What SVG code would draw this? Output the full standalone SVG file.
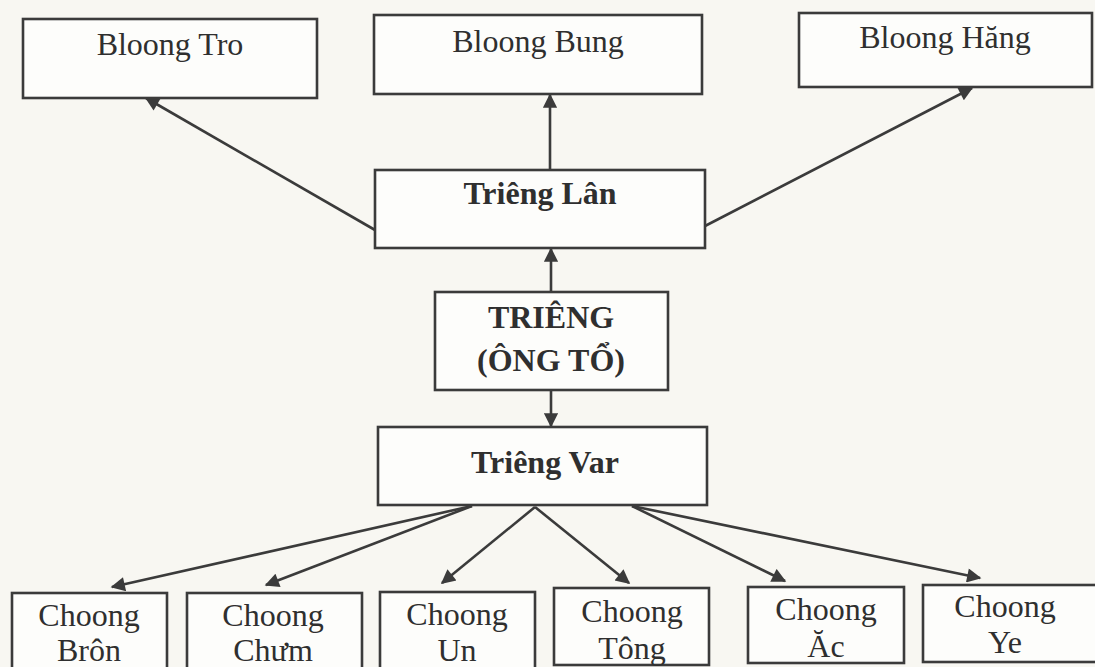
<svg xmlns="http://www.w3.org/2000/svg" width="1095" height="667" viewBox="0 0 1095 667">
<defs>
<style>
.box{fill:#fdfdfb;stroke:#3b3b3b;stroke-width:2.6}
.t{font-family:"Liberation Serif","Times New Roman",serif;font-size:32px;fill:#2f2f2f;text-anchor:middle}
.b{font-weight:bold;font-size:32px}
.c{stroke:#3b3b3b;stroke-width:2.6;fill:none;marker-end:url(#ah)}
</style>
<marker id="ah" viewBox="0 0 10 10" refX="9" refY="5" markerWidth="6" markerHeight="5.5" orient="auto" markerUnits="strokeWidth">
<path d="M0,0 L10,5 L0,10 z" fill="#3b3b3b"/>
</marker>
</defs>
<rect width="1095" height="667" fill="#f8f7f2"/>
<g id="connectors">
<line class="c" x1="375" y1="230" x2="146" y2="98"/>
<line class="c" x1="550" y1="170" x2="550" y2="95"/>
<line class="c" x1="705" y1="226" x2="972" y2="88"/>
<line class="c" x1="551" y1="292" x2="551" y2="249"/>
<line class="c" x1="551" y1="390" x2="551" y2="426"/>
<line class="c" x1="472" y1="506" x2="112" y2="587"/>
<line class="c" x1="472" y1="506" x2="266" y2="585"/>
<line class="c" x1="535" y1="507" x2="442" y2="583"/>
<line class="c" x1="535" y1="507" x2="629" y2="583"/>
<line class="c" x1="632" y1="506" x2="785" y2="581"/>
<line class="c" x1="632" y1="506" x2="980" y2="578"/>
</g>
<g id="bloong-tro"><rect class="box" x="23" y="19" width="294" height="79"/><text class="t" x="170" y="55">Bloong Tro</text></g>
<g id="bloong-bung"><rect class="box" x="374" y="15" width="328" height="79"/><text class="t" x="538" y="52">Bloong Bung</text></g>
<g id="bloong-hang"><rect class="box" x="799" y="13" width="293" height="74"/><text class="t" x="945" y="48">Bloong Hăng</text></g>
<g id="trieng-lan"><rect class="box" x="375" y="170" width="330" height="78"/><text class="t b" x="540" y="204">Triêng Lân</text></g>
<g id="trieng"><rect class="box" x="435" y="292" width="233" height="98"/><text class="t b" x="551" y="328">TRIÊNG</text><text class="t b" x="551" y="371">(ÔNG TỔ)</text></g>
<g id="trieng-var"><rect class="box" x="378" y="427" width="329" height="78"/><text class="t b" x="545" y="473">Triêng Var</text></g>
<g id="choong-bron"><rect class="box" x="12" y="593" width="155" height="80"/><text class="t" x="89" y="626">Choong</text><text class="t" x="89" y="661">Brôn</text></g>
<g id="choong-chum"><rect class="box" x="187" y="593" width="175" height="80"/><text class="t" x="273" y="626">Choong</text><text class="t" x="273" y="661">Chưm</text></g>
<g id="choong-un"><rect class="box" x="380" y="592" width="155" height="80"/><text class="t" x="457" y="625">Choong</text><text class="t" x="457" y="661">Un</text></g>
<g id="choong-tong"><rect class="box" x="554" y="588" width="155" height="77"/><text class="t" x="632" y="622">Choong</text><text class="t" x="632" y="659">Tông</text></g>
<g id="choong-ac"><rect class="box" x="748" y="587" width="156" height="76"/><text class="t" x="826" y="620">Choong</text><text class="t" x="826" y="657">Ăc</text></g>
<g id="choong-ye"><rect class="box" x="923" y="585" width="180" height="77"/><text class="t" x="1005" y="617">Choong</text><text class="t" x="1005" y="653">Ye</text></g>
</svg>
